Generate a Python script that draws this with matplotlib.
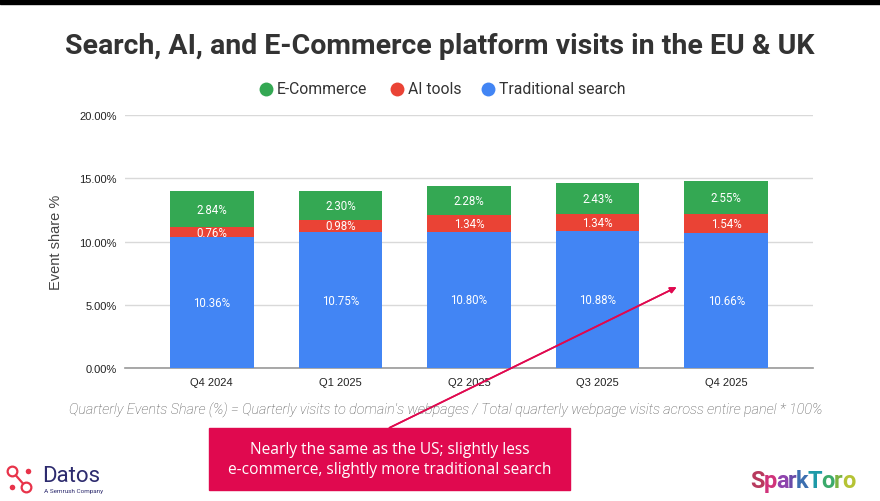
import numpy as np
import matplotlib.pyplot as plt
from matplotlib.patches import Rectangle

quarters = ['Q4 2024', 'Q1 2025', 'Q2 2025', 'Q3 2025', 'Q4 2025']
search = [10.36, 10.75, 10.80, 10.88, 10.66]
ai_tools = [0.76, 0.98, 1.34, 1.34, 1.54]
ecommerce = [2.84, 2.30, 2.28, 2.43, 2.55]

blue = '#4285F4'
red = '#EA4335'
green = '#34A853'
pink = '#E0094F'

W, H = 880, 502
fig = plt.figure(figsize=(8.8, 5.02), dpi=100)

def fx(px):
    return px / W

def fy(py):
    return 1 - py / H

def dot(px, py, size, face, edge=None, lw=0):
    fig.add_artist(plt.Line2D([fx(px)], [fy(py)], transform=fig.transFigure,
                              marker='o', markersize=size, markerfacecolor=face,
                              markeredgecolor=edge or face, markeredgewidth=lw,
                              linestyle='none'))

# black strip on top
fig.patches.append(Rectangle((0, fy(5)), 1, 5 / H, transform=fig.transFigure,
                             color='black', zorder=0))

ax = fig.add_axes([fx(125), fy(369.3), fx(813) - fx(125), fy(116) - fy(369.3)])
x = np.arange(len(quarters))
w = 0.65
b1 = ax.bar(x, search, w, color=blue, zorder=3)
b2 = ax.bar(x, ai_tools, w, bottom=search, color=red, zorder=3)
bottom3 = np.array(search) + np.array(ai_tools)
b3 = ax.bar(x, ecommerce, w, bottom=bottom3, color=green, zorder=3)

for bars, vals in [(b1, search), (b2, ai_tools), (b3, ecommerce)]:
    for r, v in zip(bars, vals):
        ax.text(r.get_x() + r.get_width() / 2, r.get_y() + r.get_height() / 2,
                f'{v:.2f}%', ha='center', va='center', color='white',
                fontsize=8.3, family='Roboto', zorder=4)

ax.set_xlim(-0.675, 4.675)
ax.set_ylim(0, 20)
ax.set_yticks([0, 5, 10, 15, 20])
ax.set_yticklabels([f'{t:.2f}%' for t in [0, 5, 10, 15, 20]])
ax.set_xticks(x)
ax.set_xticklabels(quarters)
ax.tick_params(length=0, labelsize=8, colors='#222222', pad=6)
for lab in ax.get_xticklabels() + ax.get_yticklabels():
    lab.set_family('Liberation Sans')
ax.grid(axis='y', color='#d9d9d9', linewidth=1, zorder=0)
for s in ['top', 'right', 'left']:
    ax.spines[s].set_visible(False)
ax.spines['bottom'].set_color('#999999')
ax.spines['bottom'].set_linewidth(1.2)
ax.set_ylabel('Event share %', fontsize=10.5, color='#444444',
              family='Liberation Sans', labelpad=12)

# title
fig.text(0.5, fy(46), 'Search, AI, and E-Commerce platform visits in the EU & UK',
         ha='center', va='center', fontsize=20.5, fontweight='bold',
         family='Roboto', color='#333333')

# legend
leg_items = [('E-Commerce', green, 266), ('AI tools', red, 397), ('Traditional search', blue, 488)]
for name, c, px in leg_items:
    dot(px, 90, 10, c)
    fig.text(fx(px + 11), fy(90), name, ha='left', va='center', fontsize=11.3,
             family='Roboto', color='#333333')

# footnote
fig.text(fx(446), fy(410),
         "Quarterly Events Share (%) = Quarterly visits to domain's webpages / "
         "Total quarterly webpage visits across entire panel * 100%",
         ha='center', va='center', fontsize=10.4, style='italic',
         family='Roboto', fontweight='light', color='#555555')

# callout box and arrow
fig.patches.append(Rectangle((fx(209), fy(491)), (570 - 209) / W, (491 - 429) / H,
                             transform=fig.transFigure, color=pink, zorder=5))
fig.text(fx(389.5), fy(460), 'Nearly the same as the US; slightly less\n'
         'e-commerce, slightly more traditional search',
         ha='center', va='center', fontsize=11.2, color='white', family='Open Sans',
         linespacing=1.35, zorder=6)
fig.add_artist(plt.annotate('', xy=(fx(679), fy(287)), xytext=(fx(387), fy(430)),
                            xycoords='figure fraction', textcoords='figure fraction',
                            arrowprops=dict(arrowstyle='-|>', color=pink, lw=1.2,
                                            mutation_scale=9)))

# Datos logo
logo_red = '#E8334A'
fig.add_artist(plt.Line2D([fx(12), fx(26)], [fy(472), fy(488)],
                          transform=fig.transFigure, color=logo_red, lw=1.6))
dot(12, 472, 7, 'white', logo_red, 1.6)
dot(26, 488, 7, 'white', logo_red, 1.6)
dot(28, 472, 4, logo_red)
dot(12, 488, 4, logo_red)
fig.text(fx(42), fy(477), 'Datos', ha='left', va='center', fontsize=16,
         family='Roboto', color='#2D2B6E')
fig.text(fx(44), fy(492), 'A Semrush Company', ha='left', va='center', fontsize=4.6,
         family='Roboto', color='#2D2B6E')

# SparkToro logo
letters = 'SparkToro'
cols = ['#B83A5E', '#D0337A', '#8E44AD', '#6A4BA8', '#3C6FB0',
        '#1E9AA8', '#3BAA6B', '#7CB342', '#B5C334']
xp = 750
for ch, c in zip(letters, cols):
    t = fig.text(fx(xp), fy(482), ch, ha='left', va='center', fontsize=17,
                 fontweight='bold', family='Roboto', color=c)
    fig.canvas.draw()
    bb = t.get_window_extent()
    xp += bb.width - 0.8

fig.savefig('out.png', dpi=100)
